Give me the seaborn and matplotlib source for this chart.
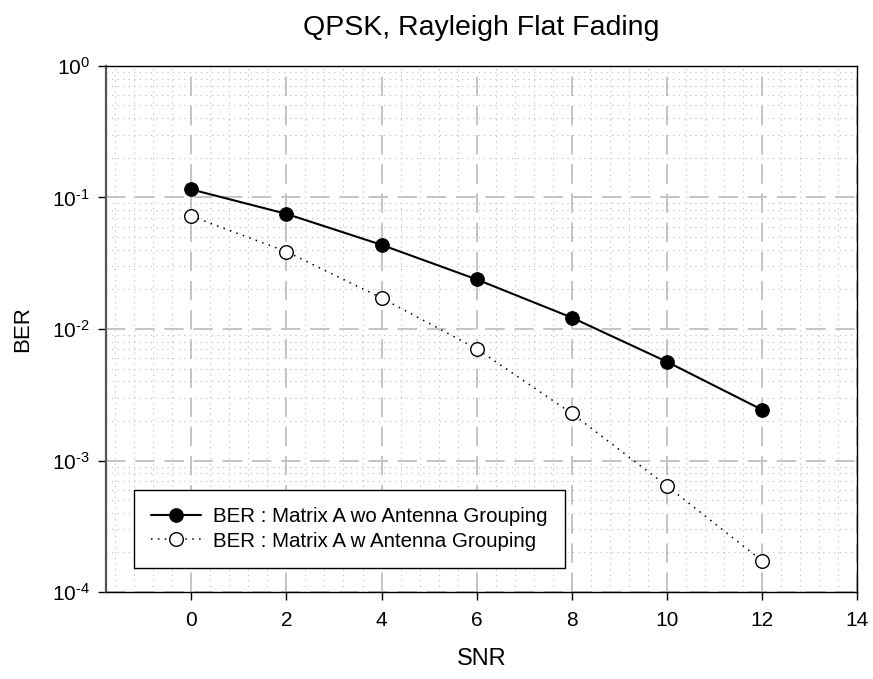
import numpy as np
import pandas as pd
import matplotlib
matplotlib.use("Agg")
import matplotlib.pyplot as plt
import seaborn as sns
from matplotlib.ticker import MultipleLocator, LogLocator, NullFormatter, FuncFormatter

snr = [0, 2, 4, 6, 8, 10, 12]
ber_wo = [0.115, 0.075, 0.0436, 0.0238, 0.0122, 0.00563, 0.00243]
ber_w = [0.0721, 0.0387, 0.0172, 0.00707, 0.00228, 0.00064, 0.000173]
label_wo = "BER : Matrix A wo Antenna Grouping"
label_w = "BER : Matrix A w Antenna Grouping"
title = "QPSK, Rayleigh Flat Fading"
xlabel = "SNR"
ylabel = "BER"
xticks = [0, 2, 4, 6, 8, 10, 12, 14]

sns.set_style("white")
plt.rcParams["font.family"] = ["Liberation Sans", "DejaVu Sans"]
plt.rcParams["mathtext.fontset"] = "custom"
plt.rcParams["mathtext.rm"] = "Liberation Sans"
plt.rcParams["mathtext.it"] = "Liberation Sans"
plt.rcParams["mathtext.default"] = "regular"
plt.rcParams["text.color"] = "black"
plt.rcParams["axes.labelcolor"] = "black"
plt.rcParams["xtick.color"] = "black"
plt.rcParams["ytick.color"] = "black"

fig = plt.figure(figsize=(8.73, 6.79), dpi=100)
ax = fig.add_axes([0.121, 0.128, 0.861, 0.775])

df_wo = pd.DataFrame({"SNR": snr, "BER": ber_wo})
df_w = pd.DataFrame({"SNR": snr, "BER": ber_w})

sns.lineplot(data=df_wo, x="SNR", y="BER", ax=ax, color="black", lw=1.5,
             marker="o", markersize=9.8, markerfacecolor="black",
             markeredgecolor="black", label=label_wo, zorder=5)
sns.lineplot(data=df_w, x="SNR", y="BER", ax=ax, color="black", lw=1.1,
             linestyle=(0, (1, 3.5)), marker="o", markersize=9.8,
             markerfacecolor="white", markeredgecolor="black",
             markeredgewidth=1.0, label=label_w, zorder=5)


def log_fmt(v, pos):
    e = int(round(np.log10(v)))
    if e < 0:
        return r"$10^{\text{-}%d}$" % (-e)
    return r"$10^{%d}$" % e


ax.set_yscale("log")
ax.set_xlim(-1.8, 14)
ax.set_ylim(1e-4, 1)
ax.set_xticks(xticks)
ax.xaxis.set_minor_locator(MultipleLocator(0.4))
ax.yaxis.set_major_locator(LogLocator(base=10, numticks=10))
ax.yaxis.set_major_formatter(FuncFormatter(log_fmt))
ax.yaxis.set_minor_locator(LogLocator(base=10, subs=np.arange(2, 10), numticks=20))
ax.yaxis.set_minor_formatter(NullFormatter())

ax.grid(which="major", color="#c4c4c4", linestyle=(0, (10, 5)), linewidth=1.4, zorder=0)
ax.grid(which="minor", color="#bcbcbc", linestyle=(0, (1, 4)), linewidth=0.8, zorder=0)
ax.set_axisbelow(True)

ax.tick_params(which="major", direction="out", length=5.5, width=1.0,
               color="black", labelsize=15, bottom=True, left=True,
               top=False, right=False)
ax.tick_params(axis="x", pad=8)
ax.tick_params(axis="y", pad=6)
ax.tick_params(which="minor", length=0)

for side in ["top", "right", "bottom", "left"]:
    ax.spines[side].set_visible(True)
    ax.spines[side].set_color("black")
    ax.spines[side].set_linewidth(1.0)
ax.spines["left"].set_color("#555555")
ax.spines["left"].set_linewidth(1.6)

ax.set_title(title, fontsize=20.5, pad=22)
ax.set_xlabel(xlabel, fontsize=17, labelpad=13)
ax.set_ylabel(ylabel, fontsize=16, labelpad=13)

leg = ax.legend(loc="lower left", bbox_to_anchor=(0.0377, 0.0456),
                borderaxespad=0, fontsize=14.8, frameon=True, fancybox=False,
                handlelength=2.4, handletextpad=0.6, borderpad=0.85,
                labelspacing=0.25, edgecolor="black", framealpha=1)
leg.get_frame().set_linewidth(1.0)

fig.savefig("out.png", dpi=100)
